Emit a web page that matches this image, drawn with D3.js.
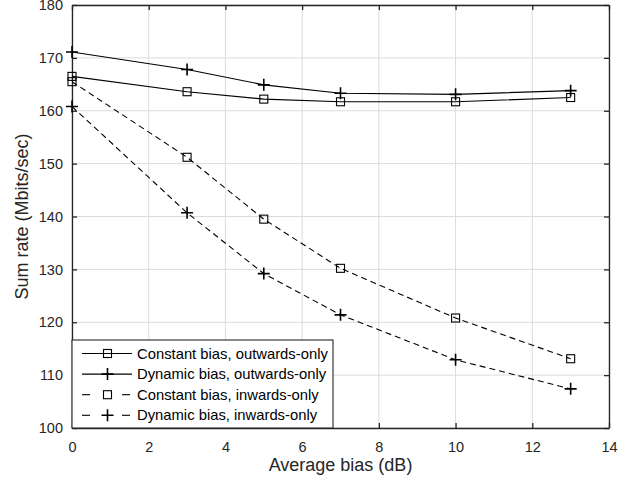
<!DOCTYPE html>
<html>
<head>
<meta charset="utf-8">
<script src="https://cdn.jsdelivr.net/npm/d3@7"></script>
<style>
  body { margin: 0; background: #fff; }
  text { font-family: "Liberation Sans", Arial, sans-serif; }
</style>
</head>
<body>
<div id="chart"></div>
<script>
// data
const bias = [0, 3, 5, 7, 10, 13];
const constantOut = [166.5, 163.6, 162.2, 161.7, 161.7, 162.5];
const dynamicOut = [171.1, 167.8, 164.9, 163.3, 163.1, 163.8];
const constantIn = [165.5, 151.2, 139.5, 130.2, 120.8, 113.1];
const dynamicIn = [160.8, 140.7, 129.2, 121.4, 112.9, 107.4];

const xTicks = [0, 2, 4, 6, 8, 10, 12, 14];
const yTicks = [100, 110, 120, 130, 140, 150, 160, 170, 180];

const seriesNames = [
    "Constant bias, outwards-only",
    "Dynamic bias, outwards-only",
    "Constant bias, inwards-only",
    "Dynamic bias, inwards-only"
];

let series = [
    { name: seriesNames[0], values: constantOut, marker: "square", dashed: false },
    { name: seriesNames[1], values: dynamicOut, marker: "plus", dashed: false },
    { name: seriesNames[2], values: constantIn, marker: "square", dashed: true },
    { name: seriesNames[3], values: dynamicIn, marker: "plus", dashed: true }
];

const W = 633, H = 485;
const margin = { top: 5, right: 24, bottom: 57, left: 72 };
const width = W - margin.left - margin.right,
    height = H - margin.top - margin.bottom;

const svg = d3.select("#chart").append("svg")
    .attr("width", W)
    .attr("height", H);

const g = svg.append("g")
    .attr("transform", "translate(" + margin.left + "," + margin.top + ")");

const x = d3.scaleLinear().domain([0, 14]).range([0, width]);
const y = d3.scaleLinear().domain([100, 180]).range([height, 0]);

// grid
g.append("g").selectAll("line")
    .data(xTicks)
    .enter().append("line")
    .attr("x1", d => x(d)).attr("x2", d => x(d))
    .attr("y1", 0).attr("y2", height)
    .attr("stroke", "#dcdcdc").attr("stroke-width", 1);
g.append("g").selectAll("line")
    .data(yTicks)
    .enter().append("line")
    .attr("y1", d => y(d)).attr("y2", d => y(d))
    .attr("x1", 0).attr("x2", width)
    .attr("stroke", "#dcdcdc").attr("stroke-width", 1);

// axes with inward ticks
const axisColor = "#262626";
let xAxis = g.append("g")
    .attr("transform", "translate(0," + height + ")")
    .call(d3.axisBottom(x).tickValues(xTicks).tickSizeInner(-5).tickSizeOuter(0).tickPadding(14));
let yAxis = g.append("g")
    .call(d3.axisLeft(y).tickValues(yTicks).tickSizeInner(-5).tickSizeOuter(0).tickPadding(9));
let xTop = g.append("g")
    .call(d3.axisTop(x).tickValues(xTicks).tickSizeInner(-5).tickSizeOuter(0).tickFormat(""));
let yRight = g.append("g")
    .attr("transform", "translate(" + width + ",0)")
    .call(d3.axisRight(y).tickValues(yTicks).tickSizeInner(-5).tickSizeOuter(0).tickFormat(""));

[xAxis, yAxis, xTop, yRight].forEach(a => {
    a.select(".domain").attr("stroke", axisColor).attr("stroke-width", 1.3);
    a.selectAll(".tick line").attr("stroke", axisColor).attr("stroke-width", 1.3);
    a.selectAll("text").attr("fill", "#262626").style("font-size", "14.5px")
        .style("font-family", "'Liberation Sans', Arial, sans-serif");
});

// lines
const line = d3.line()
    .x((d, i) => x(bias[i]))
    .y(d => y(d));

function drawMarker(sel, type, size) {
    if (type === "square") {
        sel.append("rect")
            .attr("x", -size / 2).attr("y", -size / 2)
            .attr("width", size).attr("height", size)
            .attr("fill", "none").attr("stroke", "#000").attr("stroke-width", 1.1);
    } else {
        sel.append("path")
            .attr("d", "M" + (-size / 2) + ",0H" + (size / 2) + "M0," + (-size / 2) + "V" + (size / 2))
            .attr("stroke", "#000").attr("stroke-width", 1.6).attr("fill", "none");
    }
}

series.forEach(s => {
    g.append("path")
        .datum(s.values)
        .attr("d", line)
        .attr("fill", "none")
        .attr("stroke", "#000")
        .attr("stroke-width", 1.1)
        .attr("stroke-dasharray", s.dashed ? "6,4" : null);

    g.append("g").selectAll("g")
        .data(s.values)
        .enter().append("g")
        .attr("transform", (d, i) => "translate(" + x(bias[i]) + "," + y(d) + ")")
        .each(function () {
            drawMarker(d3.select(this), s.marker, s.marker === "square" ? 8 : 12);
        });
});

// legend
const legend = g.append("g").attr("transform", "translate(0," + (height - 88) + ")");
legend.append("rect")
    .attr("x", 0).attr("y", 0)
    .attr("width", 261).attr("height", 88)
    .attr("fill", "#fff").attr("stroke", axisColor).attr("stroke-width", 1.1);

series.forEach((s, i) => {
    let row = legend.append("g").attr("transform", "translate(0," + (13.5 + i * 20.6) + ")");
    if (s.dashed) {
        row.append("line").attr("x1", 10).attr("x2", 18).attr("y1", 0).attr("y2", 0)
            .attr("stroke", "#000").attr("stroke-width", 1.1);
        row.append("line").attr("x1", 50).attr("x2", 58).attr("y1", 0).attr("y2", 0)
            .attr("stroke", "#000").attr("stroke-width", 1.1);
    } else {
        row.append("line").attr("x1", 10).attr("x2", 60).attr("y1", 0).attr("y2", 0)
            .attr("stroke", "#000").attr("stroke-width", 1.1);
    }
    let m = row.append("g").attr("transform", "translate(35.5,0)");
    drawMarker(m, s.marker, s.marker === "square" ? 8 : 12);
    row.append("text")
        .attr("x", 65).attr("y", 0).attr("dy", "0.35em")
        .style("font-size", "14.8px")
        .attr("fill", "#000")
        .text(s.name);
});

// axis titles
svg.append("text")
    .attr("x", margin.left + width / 2).attr("y", 471)
    .attr("text-anchor", "middle")
    .style("font-size", "18px")
    .attr("fill", "#262626")
    .text("Average bias (dB)");

svg.append("text")
    .attr("transform", "translate(28," + (margin.top + height / 2) + ") rotate(-90)")
    .attr("text-anchor", "middle")
    .style("font-size", "18px")
    .attr("fill", "#262626")
    .text("Sum rate (Mbits/sec)");
</script>
</body>
</html>
